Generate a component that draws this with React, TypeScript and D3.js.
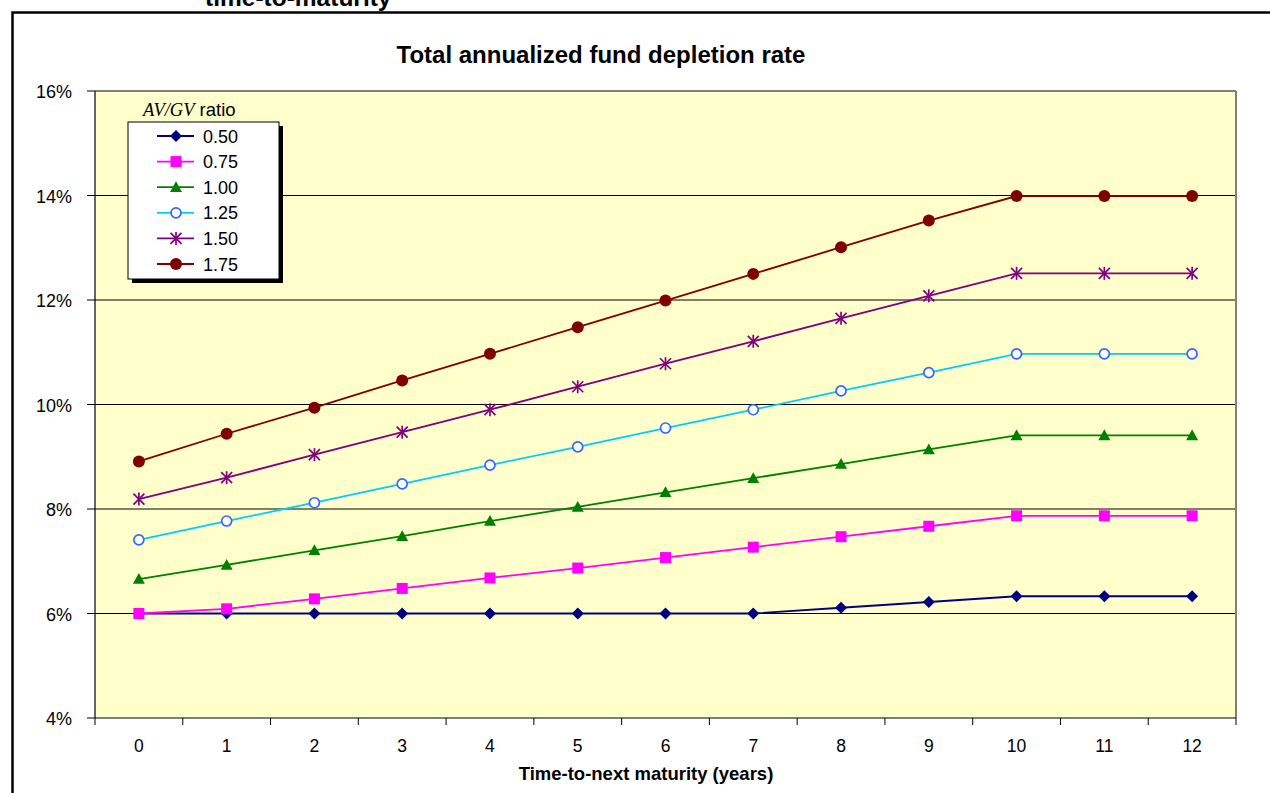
import React from "react";
import * as d3 from "d3";

const categories = ["0", "1", "2", "3", "4", "5", "6", "7", "8", "9", "10", "11", "12"];
const seriesNames = ["0.50", "0.75", "1.00", "1.25", "1.50", "1.75"];
const s050 = [6.0, 6.0, 6.0, 6.0, 6.0, 6.0, 6.0, 6.0, 6.11, 6.22, 6.33, 6.33, 6.33];
const s075 = [6.0, 6.09, 6.28, 6.48, 6.68, 6.87, 7.07, 7.27, 7.47, 7.67, 7.87, 7.87, 7.87];
const s100 = [6.66, 6.93, 7.21, 7.48, 7.77, 8.04, 8.32, 8.59, 8.86, 9.14, 9.41, 9.41, 9.41];
const s125 = [7.41, 7.77, 8.12, 8.48, 8.84, 9.19, 9.55, 9.9, 10.26, 10.61, 10.97, 10.97, 10.97];
const s150 = [8.19, 8.6, 9.04, 9.47, 9.9, 10.34, 10.78, 11.21, 11.65, 12.08, 12.51, 12.51, 12.51];
const s175 = [8.91, 9.44, 9.94, 10.46, 10.97, 11.48, 11.99, 12.5, 13.01, 13.52, 13.99, 13.99, 13.99];
const yTicks = [4, 6, 8, 10, 12, 14, 16];

const seriesValues = [s050, s075, s100, s125, s150, s175];
const lineColors = ["#000080", "#FF00FF", "#008000", "#00CCFF", "#800080", "#800000"];
const markerKinds = ["diamond", "square", "triangle", "ocircle", "asterisk", "circle"];

const W = 1270;
const H = 793;
const plot = { left: 95, right: 1236, top: 91, bottom: 718 };
const FONT = "'Liberation Sans', Arial, sans-serif";

function Marker({ kind, x, y }: { kind: string; x: number; y: number }) {
  if (kind === "diamond") {
    const s = 6;
    return <path d={`M${x},${y - s}L${x + s},${y}L${x},${y + s}L${x - s},${y}Z`} fill="#000080" />;
  }
  if (kind === "square") {
    return <rect x={x - 5.5} y={y - 5.5} width={11} height={11} fill="#FF00FF" />;
  }
  if (kind === "triangle") {
    const s = 6;
    return <path d={`M${x},${y - s}L${x + s},${y + s * 0.8}L${x - s},${y + s * 0.8}Z`} fill="#008000" />;
  }
  if (kind === "ocircle") {
    return <circle cx={x} cy={y} r={5} fill="#ffffff" stroke="#3366FF" strokeWidth={1.7} />;
  }
  if (kind === "asterisk") {
    const s = 5.5;
    return (
      <g stroke="#800080" strokeWidth={1.7}>
        <line x1={x - s} y1={y - s} x2={x + s} y2={y + s} />
        <line x1={x - s} y1={y + s} x2={x + s} y2={y - s} />
        <line x1={x} y1={y - s - 1} x2={x} y2={y + s + 1} />
      </g>
    );
  }
  return <circle cx={x} cy={y} r={6} fill="#800000" />;
}

export default function App() {
  const x = d3.scaleBand<string>().domain(categories).range([plot.left, plot.right]).padding(0);
  const y = d3.scaleLinear().domain([4, 16]).range([plot.bottom, plot.top]);
  const cx = (c: string) => (x(c) as number) + x.bandwidth() / 2;
  const line = d3
    .line<number>()
    .x((_, i) => cx(categories[i]))
    .y((v) => y(v));

  const boundaries = categories.map((c) => x(c) as number).concat([plot.right]);

  const legend = { left: 128, top: 122, right: 279, bottom: 279 };
  const rowY = (i: number) => 136 + i * 25.6;

  return (
    <svg width={W} height={H} style={{ position: "absolute", left: 0, top: 0 }} fontFamily={FONT}>
      <rect x={0} y={0} width={W} height={H} fill="#ffffff" />
      <text x={205} y={6} fontSize={24.5} fontWeight="bold" fill="#000">
        time-to-maturity
      </text>
      <path d={`M12.5,${H + 5}V12.5H${W + 5}`} fill="none" stroke="#000" strokeWidth={2.5} />

      <text x={601} y={63} fontSize={24} fontWeight="bold" textAnchor="middle">
        Total annualized fund depletion rate
      </text>

      <rect
        x={plot.left}
        y={plot.top}
        width={plot.right - plot.left}
        height={plot.bottom - plot.top}
        fill="#FFFFCC"
      />
      {yTicks.slice(1, -1).map((t) => (
        <line key={t} x1={plot.left} x2={plot.right} y1={y(t)} y2={y(t)} stroke="#000" strokeWidth={1} />
      ))}
      <line x1={plot.left} x2={plot.right} y1={plot.top} y2={plot.top} stroke="#808080" strokeWidth={2} />
      <line x1={plot.right} x2={plot.right} y1={plot.top} y2={plot.bottom} stroke="#808080" strokeWidth={2} />
      <line x1={plot.left} x2={plot.left} y1={plot.top} y2={plot.bottom} stroke="#000" strokeWidth={1.2} />
      <line x1={plot.left} x2={plot.right} y1={plot.bottom} y2={plot.bottom} stroke="#000" strokeWidth={1.2} />

      {yTicks.map((t) => (
        <g key={t}>
          <line x1={plot.left - 8} x2={plot.left} y1={y(t)} y2={y(t)} stroke="#000" />
          <text x={72} y={y(t) + 7} fontSize={18} textAnchor="end">
            {d3.format(".0f")(t)}%
          </text>
        </g>
      ))}
      {boundaries.map((b, i) => (
        <line key={i} x1={b} x2={b} y1={plot.bottom} y2={plot.bottom + 7} stroke="#000" />
      ))}
      {categories.map((c) => (
        <text key={c} x={cx(c)} y={752} fontSize={17.5} textAnchor="middle">
          {c}
        </text>
      ))}
      <text x={646} y={780} fontSize={18.5} fontWeight="bold" textAnchor="middle">
        Time-to-next maturity (years)
      </text>

      {seriesValues.map((vals, si) => (
        <g key={si}>
          <path d={line(vals) || ""} fill="none" stroke={lineColors[si]} strokeWidth={1.8} />
          {vals.map((v, i) => (
            <Marker key={i} kind={markerKinds[si]} x={cx(categories[i])} y={y(v)} />
          ))}
        </g>
      ))}

      <text x={143} y={116} fontSize={18.5}>
        <tspan fontFamily="'Liberation Serif', 'Times New Roman', serif" fontStyle="italic">
          AV/GV
        </tspan>
        <tspan> ratio</tspan>
      </text>
      <rect x={legend.left + 4} y={legend.top + 4} width={legend.right - legend.left} height={legend.bottom - legend.top} fill="#000" />
      <rect
        x={legend.left}
        y={legend.top}
        width={legend.right - legend.left}
        height={legend.bottom - legend.top}
        fill="#ffffff"
        stroke="#000"
        strokeWidth={1}
      />
      {seriesNames.map((n, i) => (
        <g key={n}>
          <line x1={157} x2={194} y1={rowY(i)} y2={rowY(i)} stroke={lineColors[i]} strokeWidth={1.8} />
          <Marker kind={markerKinds[i]} x={176} y={rowY(i)} />
          <text x={203} y={rowY(i) + 6.5} fontSize={18}>
            {n}
          </text>
        </g>
      ))}
    </svg>
  );
}
